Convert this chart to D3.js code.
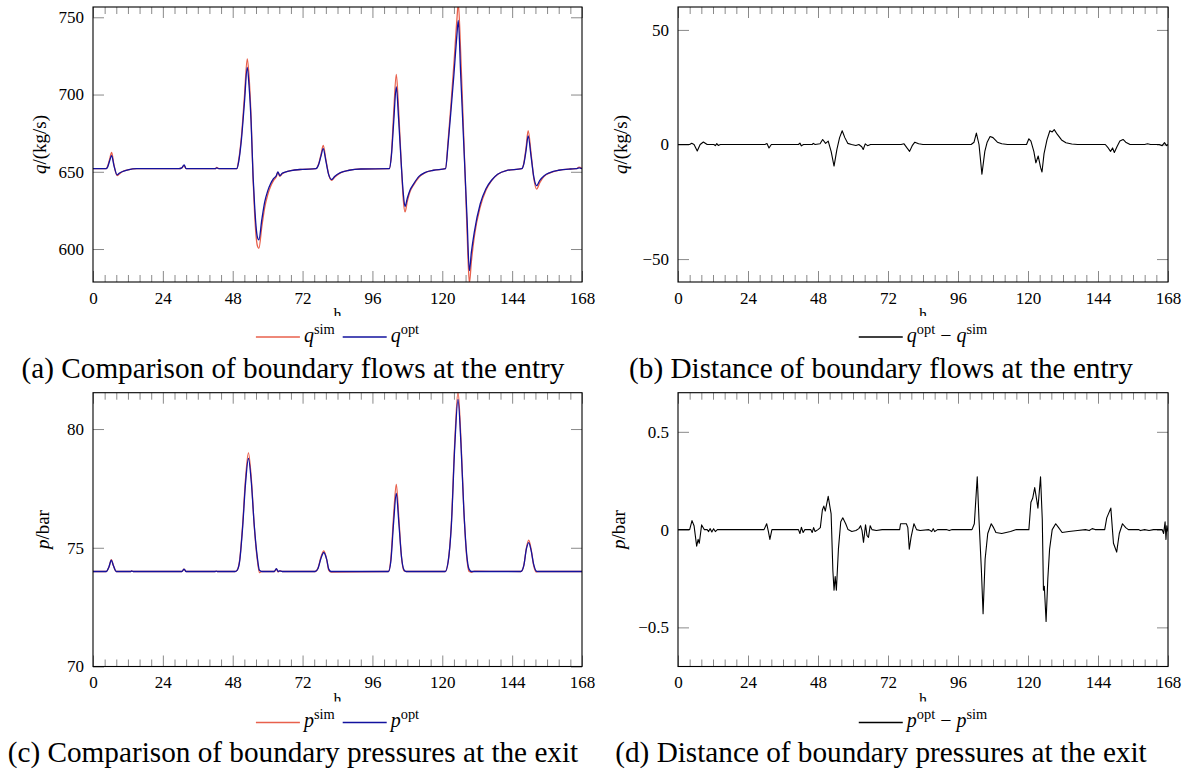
<!DOCTYPE html>
<html><head><meta charset="utf-8">
<script src="https://cdn.jsdelivr.net/npm/d3@7/dist/d3.min.js"></script>
<style>
body{margin:0;background:#fff;}
svg{display:block;font-family:"Liberation Serif","DejaVu Serif",serif;}
svg text{font-family:"Liberation Serif","DejaVu Serif",serif;}
</style></head><body>
<svg id="chart" width="1189" height="774"></svg>
<script>
// ---------------- data ----------------
const xTicks = [0,24,48,72,96,120,144,168];
const xTickLabels = ["0","24","48","72","96","120","144","168"];

// (a) boundary flows at the entry
const tQ = [0,4.5,5,5.7,6.4,7.2,8.3,9,10,12,15,29.5,30.5,31.3,32,42,42.5,43.2,49.4,50,51,52,53,53.6,54.3,55,55.5,56,56.5,57,58,59,60,61,62,63,63.5,64.2,65,66,68,72,76.6,77.5,78.3,79.1,80,81,82,83,85,88,92,101.8,102.5,103.3,104.2,105,106,106.6,107.2,108,109,110,112,114,117,121.1,122,123,124,125,125.5,126.3,127,127.8,128.5,129.3,130,131,133,135,137,139,142,147.3,148,148.8,149.5,150.5,151.5,152.4,153.5,155,157,160,164,166,167,168];
const qSim = [652,652,653.5,658,662.5,654.5,647.5,648.5,650,651.2,652,652,652.5,654,652,652,652.8,652,652,657,673,698,723,712,686,645,624,609,602,600.5,614.5,627,635,640.5,644.3,647,649.8,647,648.8,649.7,650.8,651.6,652,655,661,667,658,648,644.5,646.5,649.3,651,651.8,652,661,688,713,690,652,632,624,631,637.5,641,646.5,649.3,651,652,670,694,720,748,759,728,692,650,612,578,592,608,627,638,644.5,648.3,650.8,652,655.5,666,676.7,662,645,638.8,643,647,649.3,651,651.8,652,653,652];
const qOpt = [652,652,653,657,660.5,654,648,649,650,651.2,652,652,652.5,654.5,652,652,652.5,652,652,656,671,694,717.5,706,683,647,629,615,607.5,606,619,630.5,637.5,642.2,645.5,647.6,650,647.5,649,649.8,650.8,651.6,652,654.5,660,665,657,648,645,647,649.5,651,651.8,652,660,682,705,684,652,636,627.5,633,638.5,641.7,647,649.5,651,652,668,690,713,738,748,714,684,650,620,586,598,611,629,639,644.7,648.4,650.8,652,655,664,673.3,660,646,641,644.5,647.5,649.5,651,651.8,652,652.5,652];
const qTicks = [600,650,700,750];
const qTickLabels = ["600","650","700","750"];

// (b) distance of boundary flows
const tDq = [0,4,4.7,5.5,6.6,7.6,8.7,10,12.3,12.8,13.3,13.8,14.5,29.8,30.5,31.2,32,41.3,41.8,42.3,43,46,46.4,47,48.7,49.6,50.6,51.5,52.5,53.5,54.5,55.4,56.3,57.2,58.2,59.5,61,62,63,63.5,64.2,65,66,76.5,77.5,78.5,79.4,80.3,81.2,82.5,84,100.5,101.5,102.3,103.2,104.2,105.2,106,107,108,109.5,111,113,119.5,120.3,121,122,122.7,123.5,124.3,124.8,125.5,126.5,127.5,128.3,129,130,131.5,133,135,137,146.5,147.5,148.3,149,149.6,150.5,151.5,152.6,153.5,155,160,161,162,165,166,166.8,167.5,168];
const dq = [0,0,0.5,0,-2.8,0,1.1,0,0,-0.5,0.4,-0.4,0,0,0.4,-1.5,0,0,0.6,-0.6,0,0,0.5,0,0.3,2.2,0.5,1.5,-3,-9.4,-2,3,6,3,0.5,0,-0.4,0,-1,-2.2,0.3,-0.5,0,0,0.3,-1.5,-3,-0.5,1,0.3,0,0,1,5,0,-13,-3,1,3.5,3,1,0.3,0,0,2.5,1.5,-3,-8,-5,-10,-12,-4,2,6,5.5,6.5,4.5,2,0.8,0.2,0,0,-1.5,-3,-1.5,-3.5,-1,1.5,2.2,1,0,0,0.3,0,0,-0.5,0.8,-0.5,0];
const dqTicks = [-50,0,50];
const dqTickLabels = ["\u221250","0","50"];

// (c) boundary pressures at the exit
const tP = [0,4.5,5.5,6.3,7,8,13,13.3,13.8,30.5,31.3,32,42,42.3,42.7,48.8,49.5,50.4,51.4,52.4,53.4,54.4,55.4,56.4,57.2,58,62.3,63,63.6,64.2,65,76.3,77.3,78.3,79.3,80.3,81,81.8,101.5,102.3,103.3,104.2,105.1,106,106.8,107.6,121,122,123.1,124.3,125.4,126.4,127.4,128.4,129.2,130,131,147,148,148.9,149.7,150.5,151.4,152.3,153,168];
const pSim = [74,74,74.2,74.5,74.25,74,74,74.03,74,74,74.1,74,74,74.02,74,74,74.05,74.5,75.96,77.9,79.0,77.9,75.9,74.55,73.95,74,74,74.11,73.98,74.03,74,74,74.15,74.6,74.87,74.5,74.05,73.98,74,74.5,76.4,77.67,76.2,74.6,74.03,74,74,74.4,76.0,79.5,81.57,79.6,76.6,74.6,74.0,73.97,74.02,74,74.25,75.0,75.32,74.95,74.25,73.98,74,74];
const pOpt = [74,74,74.2,74.48,74.25,74,74,74.03,74,74,74.1,74,74,74.02,74,74,74.05,74.45,75.85,77.7,78.76,77.75,75.95,74.65,74.05,74,74,74.12,74,74.03,74,74,74.13,74.55,74.8,74.5,74.1,74,74,74.4,76.1,77.29,76.0,74.6,74.08,74,74,74.4,75.9,79.3,81.25,79.4,76.6,74.7,74.1,74,74,74,74.25,74.95,75.22,74.9,74.3,74.02,74,74];
const pTicks = [70,75,80];
const pTickLabels = ["70","75","80"];

// (d) distance of boundary pressures
const tDp = [0,4,4.8,5.5,6.4,6.9,7.3,8.1,9,10,10.5,11,11.6,12.2,12.8,13.5,29.5,30.4,31,31.5,32.2,41.3,41.8,42.3,42.9,43.5,45.5,46,46.5,47,48,48.8,49.5,50,50.5,51.5,52.5,53.1,53.5,53.9,54.3,55,55.8,56.5,57.5,58.3,59.6,61,62,62.6,63.1,63.6,64.3,64.8,65.3,65.9,66.5,68,70,76,76.3,78.3,78.8,79.3,79.9,80.9,81.8,83,86,87,87.5,88,89,92,93,94,100.8,101.6,102.6,103.2,104,104.6,105.3,106.2,107.4,108.2,109,111,114,116,120.3,121,121.6,122.3,123,123.4,124.3,124.9,125.3,125.6,126.2,126.8,127.4,128.3,129.5,130.5,131.7,134,137,139.7,141,142,143,146.3,147,148.4,149.3,149.8,150.4,151.3,152.4,153.5,154.4,158,158.5,160,161.5,163,166,166.5,167,167.3,167.6,168];
const dp = [0,0,0.046,0.02,-0.085,-0.05,-0.07,0.024,0,0,-0.01,0.005,-0.012,0.004,-0.01,0,0,0.03,-0.01,-0.05,0,0,-0.02,0.012,-0.015,0,0,-0.015,0.01,-0.01,0,0.01,0.1,0.12,0.095,0.17,0.08,-0.21,-0.31,-0.24,-0.31,-0.1,0.04,0.06,0.03,0,-0.01,-0.005,0.005,0.02,-0.005,-0.065,0.025,-0.03,-0.04,0.02,0,-0.005,0,0,0.03,0.03,0.01,-0.1,-0.04,0.03,0,-0.005,0,-0.01,0.005,-0.01,0,0,-0.005,0,0,0.03,0.27,0.05,-0.2,-0.43,-0.15,-0.02,0.03,0.01,-0.015,-0.02,-0.01,0,0,0.14,0.16,0.215,0.15,0.11,0.27,0.05,-0.31,-0.29,-0.47,-0.25,-0.1,0,0.03,0.01,-0.015,-0.01,-0.005,0,-0.005,0.005,0,0,0.06,0.11,-0.07,-0.09,-0.115,-0.02,0.03,0.01,0,0,-0.005,0,-0.005,0,0,-0.02,0.04,-0.05,0.02,-0.01];
const dpTicks = [-0.5,0,0.5];
const dpTickLabels = ["\u22120.5","0","0.5"];

const captions = [
  "(a) Comparison of boundary flows at the entry",
  "(b) Distance of boundary flows at the entry",
  "(c) Comparison of boundary pressures at the exit",
  "(d) Distance of boundary pressures at the exit"
];

// ---------------- drawing ----------------
const FONT = '"Liberation Serif","DejaVu Serif",serif';
const RED = "#e8604c", BLUE = "#12129e", BLACK = "#000";
const TICK = "#8a8a8a";
const svg = d3.select("#chart");
const defs = svg.append("defs");
const xMinor = d3.range(4, 168, 4).filter(v => v % 24 !== 0);

const panels = [
  {id:"a", x0:93, x1:582, y0:7, y1:282, yDom:[578.66,756.66], yTicks:qTicks, yLabels:qTickLabels,
   ylab:{sym:"q", unit:"/(kg/s)", x:39}, curve:d3.curveMonotoneX,
   series:[{t:tQ,v:qSim,c:RED,w:1.3},{t:tQ,v:qOpt,c:BLUE,w:1.3}],
   legend:[{c:RED,parts:[{t:"q",i:1},{t:"sim",s:1}]},{c:BLUE,parts:[{t:"q",i:1},{t:"opt",s:1}]}],
   legY:337, cap:captions[0], capX:293, capY:378},
  {id:"b", x0:678, x1:1168, y0:7, y1:282, yDom:[-60,60], yTicks:dqTicks, yLabels:dqTickLabels,
   ylab:{sym:"q", unit:"/(kg/s)", x:620}, curve:d3.curveLinear,
   series:[{t:tDq,v:dq,c:BLACK,w:1.1}],
   legend:[{c:BLACK,parts:[{t:"q",i:1},{t:"opt",s:1},{t:" \u2212 "},{t:"q",i:1},{t:"sim",s:1}]}],
   legY:337, cap:captions[1], capX:881, capY:378},
  {id:"c", x0:93, x1:582, y0:392.7, y1:666.5, yDom:[70,81.53], yTicks:pTicks, yLabels:pTickLabels,
   ylab:{sym:"p", unit:"/bar", x:42}, curve:d3.curveMonotoneX,
   series:[{t:tP,v:pSim,c:RED,w:1.3},{t:tP,v:pOpt,c:BLUE,w:1.3}],
   legend:[{c:RED,parts:[{t:"p",i:1},{t:"sim",s:1}]},{c:BLUE,parts:[{t:"p",i:1},{t:"opt",s:1}]}],
   legY:722.5, cap:captions[2], capX:293, capY:762},
  {id:"d", x0:678, x1:1168, y0:392.7, y1:666.5, yDom:[-0.7,0.7], yTicks:dpTicks, yLabels:dpTickLabels,
   ylab:{sym:"p", unit:"/bar", x:618}, curve:d3.curveLinear,
   series:[{t:tDp,v:dp,c:BLACK,w:1.1}],
   legend:[{c:BLACK,parts:[{t:"p",i:1},{t:"opt",s:1},{t:" \u2212 "},{t:"p",i:1},{t:"sim",s:1}]}],
   legY:722.5, cap:captions[3], capX:881, capY:762}
];

// caption font size fitted to the reference width of caption (a)
const probe = svg.append("text").attr("font-family",FONT).attr("font-size", 20).text(captions[0]);
const capSize = 20 * 543 / probe.node().getComputedTextLength();
probe.remove();

function addParts(textSel, parts, size) {
  let raised = false;
  parts.forEach(pt => {
    const ts = textSel.append("tspan").text(pt.t);
    if (pt.i) ts.attr("font-style", "italic");
    if (pt.s) { ts.attr("font-size", size * 0.72).attr("dy", -size * 0.4); raised = true; }
    else { ts.attr("font-size", size); if (raised) { ts.attr("dy", size * 0.4); raised = false; } }
  });
}

panels.forEach(p => {
  const g = svg.append("g").attr("font-family", FONT);
  const x = d3.scaleLinear().domain([0,168]).range([p.x0,p.x1]);
  const y = d3.scaleLinear().domain(p.yDom).range([p.y1,p.y0]);
  defs.append("clipPath").attr("id","clip"+p.id).append("rect")
    .attr("x",p.x0).attr("y",p.y0).attr("width",p.x1-p.x0).attr("height",p.y1-p.y0);

  const ax = (axis, tx, ty) => {
    const a = g.append("g").attr("transform",`translate(${tx},${ty})`).call(axis);
    a.select(".domain").remove();
    a.attr("font-family", FONT);
    a.selectAll("line").attr("stroke", TICK).attr("stroke-width", 1);
    a.selectAll("text").attr("font-size", 17).attr("fill", "#000");
    return a;
  };
  ax(d3.axisBottom(x).tickValues(xMinor).tickSize(-7).tickFormat(""), 0, p.y1);
  ax(d3.axisTop(x).tickValues(xMinor).tickSize(-7).tickFormat(""), 0, p.y0);
  ax(d3.axisBottom(x).tickValues(xTicks).tickSize(-11).tickPadding(9.5).tickFormat((d,i)=>xTickLabels[i]), 0, p.y1);
  ax(d3.axisTop(x).tickValues(xTicks).tickSize(-11).tickFormat(""), 0, p.y0);
  ax(d3.axisLeft(y).tickValues(p.yTicks).tickSize(-11).tickPadding(9).tickFormat((d,i)=>p.yLabels[i]), p.x0, 0);
  ax(d3.axisRight(y).tickValues(p.yTicks).tickSize(-11).tickFormat(""), p.x1, 0);

  // series
  const lines = g.append("g").attr("clip-path", `url(#clip${p.id})`);
  p.series.forEach(s => {
    const data = s.t.map((t,i) => [t, s.v[i]]);
    lines.append("path")
      .attr("d", d3.line().x(d=>x(d[0])).y(d=>y(d[1])).curve(p.curve)(data))
      .attr("fill","none").attr("stroke",s.c).attr("stroke-width",s.w)
      .attr("stroke-linejoin","round");
  });

  // frame
  g.append("rect").attr("x",p.x0).attr("y",p.y0).attr("width",p.x1-p.x0).attr("height",p.y1-p.y0)
    .attr("fill","none").attr("stroke","#000").attr("stroke-width",1.1);

  // y label
  const yl = g.append("text").attr("transform",`translate(${p.ylab.x},${(p.y0+p.y1)/2}) rotate(-90)`)
    .attr("text-anchor","middle").attr("dy","0.35em").attr("font-size",19);
  yl.append("tspan").attr("font-style","italic").text(p.ylab.sym);
  yl.append("tspan").text(p.ylab.unit);

  // x label (partly hidden by legend box)
  const cx = (p.x0+p.x1)/2;
  g.append("text").attr("x",cx).attr("y",p.y1+38).attr("text-anchor","middle").attr("font-size",16).text("h");

  // legend
  const lg = g.append("g");
  const bg = lg.append("rect").attr("fill","#fff");
  const items = lg.append("g");
  let cur = 0;
  p.legend.forEach(it => {
    items.append("line").attr("x1",cur).attr("x2",cur+44).attr("y1",0).attr("y2",0)
      .attr("stroke",it.c).attr("stroke-width",1.3);
    cur += 48;
    const t = items.append("text").attr("x",cur).attr("y",0).attr("dy","0.3em");
    addParts(t, it.parts, 20);
    cur += t.node().getComputedTextLength() + 8;
  });
  const lw = cur - 8;
  items.attr("transform",`translate(${cx - lw/2},${p.legY})`);
  bg.attr("x",cx-lw/2-6).attr("y",p.legY-21).attr("width",lw+12).attr("height",36);

  // caption
  svg.append("text").attr("x",p.capX).attr("y",p.capY).attr("text-anchor","middle")
    .attr("font-family",FONT).attr("font-size",capSize).text(p.cap);
});
</script>
</body></html>
